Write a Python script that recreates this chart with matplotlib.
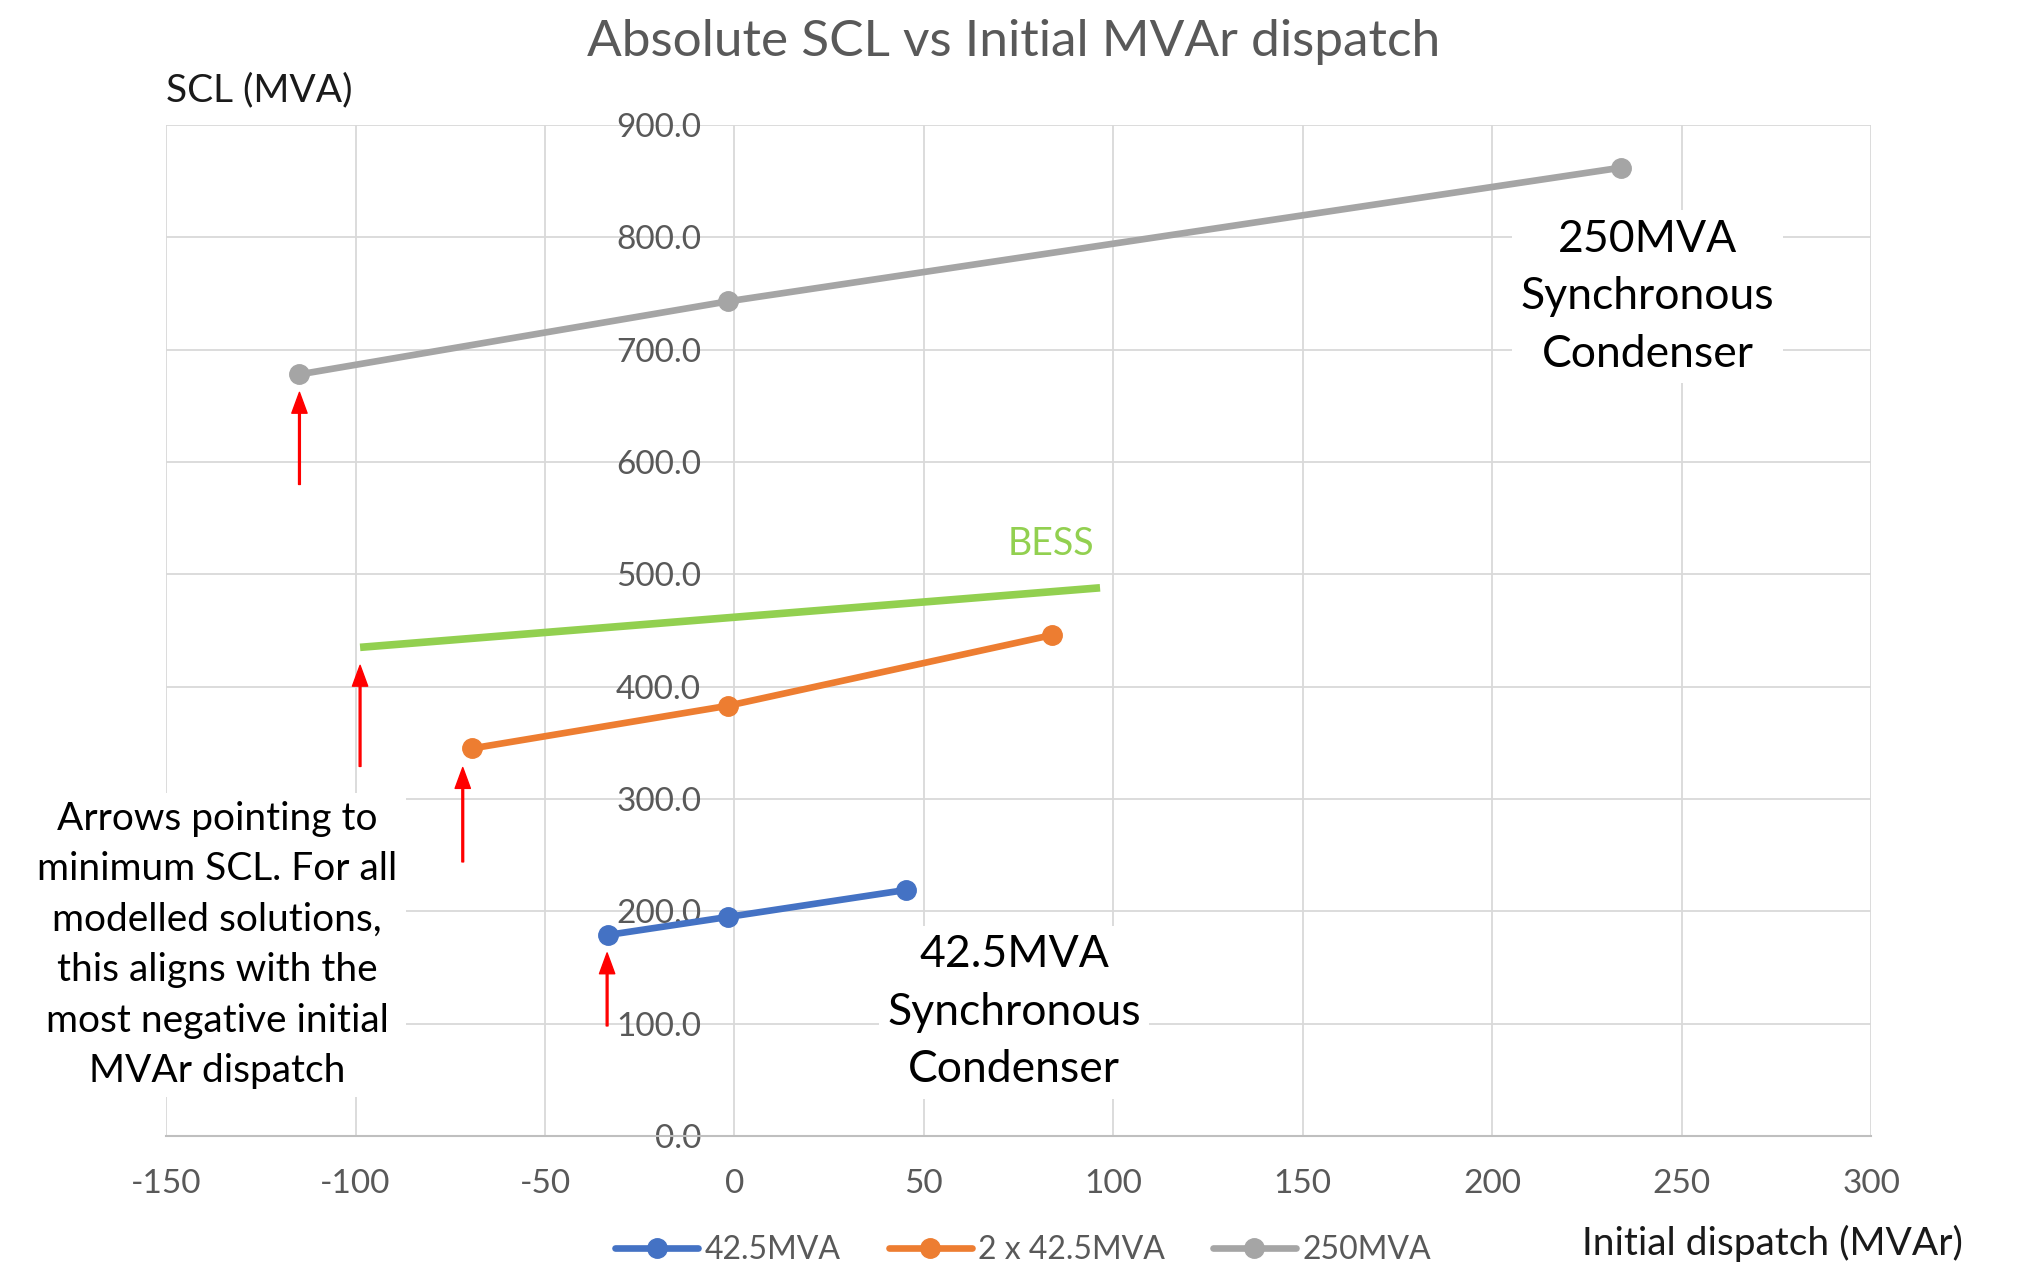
import matplotlib
matplotlib.use("Agg")
from matplotlib import pyplot as plt

plt.rcParams['font.family'] = ['Lato', 'DejaVu Sans']
plt.rcParams['axes.unicode_minus'] = False

# series (x = initial MVAr dispatch, y = SCL in MVA)
sc42_x = [-33.3, -1.7, 45.2]
sc42_y = [179, 195, 219]
sc85_x = [-69.3, -1.7, 83.9]
sc85_y = [345, 383, 446]
sc250_x = [-114.8, -1.7, 234]
sc250_y = [678, 743, 862]
bess_x = [-98.8, 96.5]
bess_y = [435, 488]

series_names = ["42.5MVA", "2 x 42.5MVA", "250MVA"]
series_colors = ["#4472C4", "#ED7D31", "#A5A5A5"]

# red arrows: x, tail y, tip y
arrow_x = [-114.8, -98.8, -71.7, -33.6]
arrow_tail = [580, 329, 244, 98]
arrow_tip = [662, 419, 328, 163]

xticks = list(range(-150, 301, 50))
yticks = list(range(0, 901, 100))

fig = plt.figure(figsize=(20.18, 12.69), dpi=100)
ax = fig.add_axes([0.0823, 0.1048, 0.8449, 0.7967])

# Plot lines
for xs, ys, name, col in zip([sc42_x, sc85_x, sc250_x],
                             [sc42_y, sc85_y, sc250_y],
                             series_names, series_colors):
    ax.plot(xs, ys, color=col, lw=4.8, marker='o', markersize=14,
            label=name, solid_capstyle='round', zorder=3)
ax.plot(bess_x, bess_y, color="#92D050", lw=5.5, solid_capstyle='butt',
        zorder=3)
ax.text(83.6, 527, "BESS", color="#92D050", fontsize=27,
        ha='center', va='center')

for x, y0, y1 in zip(arrow_x, arrow_tail, arrow_tip):
    ax.annotate('', xy=(x, y1), xytext=(x, y0),
                arrowprops=dict(facecolor='red', edgecolor='red', width=1.3,
                                headwidth=11, headlength=15, shrink=0),
                zorder=4)

# Axis settings
ax.set_xlim(-150, 300)
ax.set_ylim(0, 900)
ax.set_xticks(xticks)
ax.set_yticks(yticks)
ax.set_yticklabels(["%.1f" % v for v in yticks])
ax.spines['left'].set_position(('data', 0))
for s in ['left', 'right', 'top']:
    ax.spines[s].set_visible(False)
ax.spines['bottom'].set_color('#BFBFBF')
ax.spines['bottom'].set_linewidth(1.5)
ax.grid(True, color='#D9D9D9', lw=1.3)
ax.set_axisbelow(True)
ax.tick_params(axis='both', length=0, labelsize=24, labelcolor='#595959')
ax.tick_params(axis='y', pad=24)
ax.tick_params(axis='x', pad=24)

# Text boxes
box = dict(facecolor='white', edgecolor='none', pad=6)
ax.text(241, 747, "250MVA\nSynchronous\nCondenser", fontsize=32,
        ha='center', va='center', linespacing=1.5, bbox=box, zorder=5)
ax.text(73.8, 110, "42.5MVA\nSynchronous\nCondenser", fontsize=32,
        ha='center', va='center', linespacing=1.5, bbox=box, zorder=5)
ax.text(-136.5, 170, "Arrows pointing to\nminimum SCL. For all\n"
        "modelled solutions,\nthis aligns with the\nmost negative initial\n"
        "MVAr dispatch", fontsize=28, ha='center', va='center',
        linespacing=1.5, bbox=box, zorder=5, clip_on=False)

fig.text(1014 / 2018, 1 - 42 / 1269, "Absolute SCL vs Initial MVAr dispatch",
         fontsize=37, color='#595959', ha='center', va='center')
fig.text(166 / 2018, 1 - 90 / 1269, "SCL (MVA)", fontsize=28,
         color='#1a1a1a', ha='left', va='center')
fig.text(1963 / 2018, 1 - 1243 / 1269, "Initial dispatch (MVAr)", fontsize=28,
         color='#1a1a1a', ha='right', va='center')

fig.legend(loc='center', bbox_to_anchor=(1023 / 2018, 1 - 1250 / 1269),
           ncol=3, frameon=False, fontsize=23, labelcolor='#595959',
           handlelength=2.6, handletextpad=0.2, columnspacing=1.5)

plt.savefig("out.png", dpi=100)
